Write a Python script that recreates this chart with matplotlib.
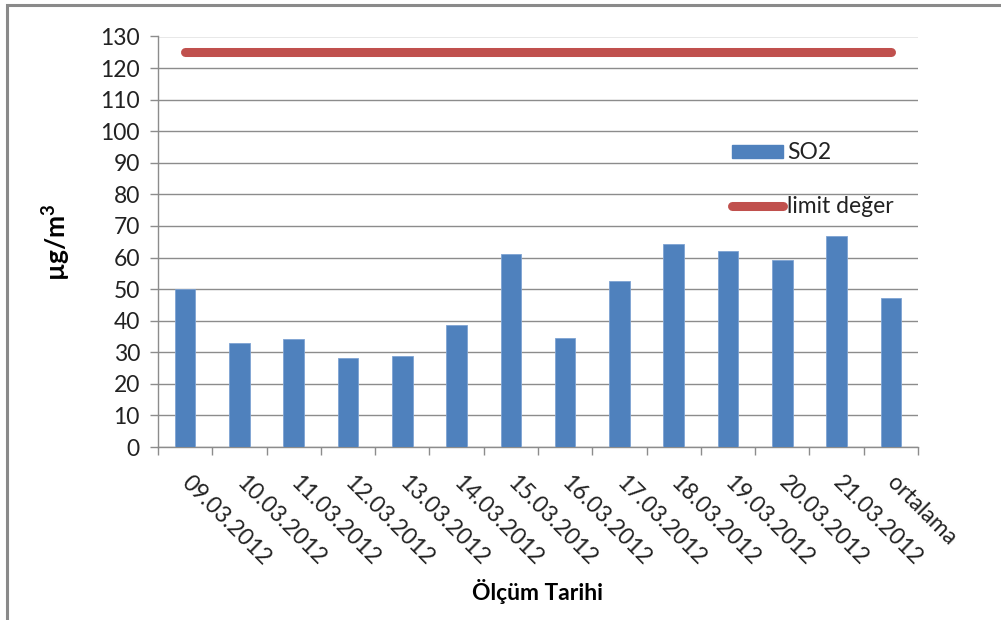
import matplotlib
matplotlib.use("Agg")
import matplotlib.pyplot as plt
from matplotlib.patches import Rectangle
from matplotlib.lines import Line2D
import numpy as np

plt.rcParams['font.family'] = ['Lato', 'DejaVu Sans']

categories = ["09.03.2012", "10.03.2012", "11.03.2012", "12.03.2012", "13.03.2012",
              "14.03.2012", "15.03.2012", "16.03.2012", "17.03.2012", "18.03.2012",
              "19.03.2012", "20.03.2012", "21.03.2012", "ortalama"]
so2 = [50.0, 33.0, 34.3, 28.1, 28.8, 38.5, 61.2, 34.6, 52.6, 64.3, 62.0, 59.3, 66.8, 47.3]
limit = [125] * len(categories)
yticks = list(range(0, 131, 10))

BLUE = "#4F81BD"
RED = "#C0504D"
GRID = "#8C8C8C"
TXT = "#222222"

W, H = 1001, 620
fig = plt.figure(figsize=(W / 100, H / 100), dpi=100)

# outer chart frame (only top and left edges fall inside the canvas)
fig.add_artist(Rectangle((7 / W, -0.1), 1.2, 1 - 5 / H + 0.1, transform=fig.transFigure,
                         fill=False, edgecolor="#8A8A8A", linewidth=2.2))

ax = fig.add_axes([158 / W, 1 - 447 / H, (918 - 158) / W, (447 - 36.5) / H])
x = np.arange(len(categories))

ax.bar(x, so2, width=0.38, color=BLUE, edgecolor="#7EA3D3", linewidth=0.6, zorder=3)
ax.plot(x, limit, color=RED, linewidth=6.5, solid_capstyle="round", zorder=4)

ax.set_xlim(-0.5, len(categories) - 0.5)
ax.set_ylim(0, 130)
ax.set_yticks(yticks)
ax.yaxis.grid(True, color=GRID, linewidth=1.0, zorder=0)
ax.set_axisbelow(True)

for s in ("top", "right"):
    ax.spines[s].set_visible(False)
for s in ("left", "bottom"):
    ax.spines[s].set_color(GRID)
    ax.spines[s].set_linewidth(1.0)

ax.tick_params(axis="y", direction="out", length=6, width=1, color=GRID,
               labelsize=16.5, labelcolor=TXT, pad=7)
ax.set_xticks(x)
ax.set_xticklabels(categories, rotation=-45, ha="left", va="center",
                   rotation_mode="anchor", fontsize=16.5, color=TXT)
ax.tick_params(axis="x", which="major", length=0, pad=23)
ax.set_xticks(np.arange(-0.5, len(categories)), minor=True)
ax.tick_params(axis="x", which="minor", direction="out", length=6, width=1, color=GRID)

ax.set_ylabel("µg/m$^\\mathregular{3}$", fontsize=19, fontweight="bold", color="black", labelpad=20)
fig.text(538 / W, 1 - 592 / H, "Ölçüm Tarihi", ha="center", va="center",
         fontsize=16.5, fontweight="bold", color="black")

handles = [Rectangle((0, 0), 1, 1, facecolor=BLUE, edgecolor=BLUE),
           Line2D([], [], color=RED, linewidth=6.5, solid_capstyle="round")]
leg = ax.legend(handles, ["SO2", "limit değer"], loc="upper left",
                bbox_to_anchor=((723 - 158) / (918 - 158), (447 - 133) / (447 - 36.5)),
                frameon=False, fontsize=16.5, handlelength=2.2, handleheight=0.5,
                handletextpad=0.2, labelspacing=1.45, borderaxespad=0)
for t in leg.get_texts():
    t.set_color(TXT)

fig.savefig("out.png", dpi=100, facecolor="white")
